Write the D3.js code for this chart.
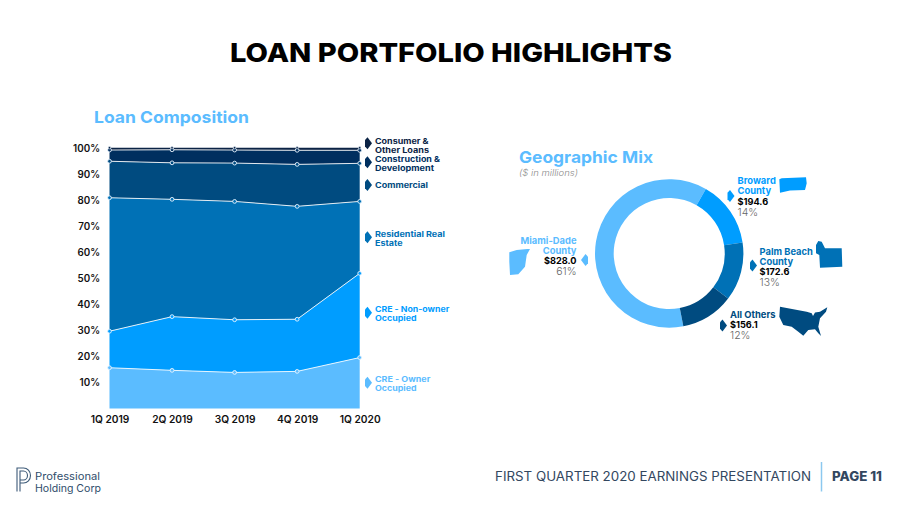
<!DOCTYPE html>
<html>
<head>
<meta charset="utf-8">
<script src="https://cdn.jsdelivr.net/npm/d3@7"></script>
<style>
  html, body { margin: 0; padding: 0; background: #fff; }
  svg { display: block; }
  text { font-family: Inter, "Open Sans", sans-serif; }
</style>
</head>
<body>
<svg id="chart" width="900" height="506"></svg>
<script>
// loan composition, % of portfolio per quarter
const quarters = ['1Q 2019', '2Q 2019', '3Q 2019', '4Q 2019', '1Q 2020'];
const ownerOccupied = [15.6, 14.6, 13.8, 14.2, 19.5];
const nonOwnerOccupied = [14.0, 20.6, 20.2, 20.0, 32.3];
const residential = [51.2, 45.0, 45.4, 43.3, 27.6];
const commercial = [14.0, 14.0, 14.7, 16.1, 14.6];
const construction = [4.3, 5.0, 5.0, 5.4, 5.0];
const consumer = [0.9, 0.8, 0.9, 1.0, 1.0];
const percentTicks = [10, 20, 30, 40, 50, 60, 70, 80, 90, 100];

const seriesNames = ['owner', 'nonOwner', 'resi', 'comm', 'constr', 'cons'];
const seriesValues = [ownerOccupied, nonOwnerOccupied, residential, commercial, construction, consumer];
const seriesColors = ['#5bbcff', '#009dff', '#0071b6', '#004b80', '#002f5f', '#0b2345'];

// geographic mix, $ millions
const geoNames = ['Miami-Dade', 'Broward', 'Palm Beach', 'All Others'];
const geoValues = [828.0, 194.6, 172.6, 156.1];
const geoColors = ['#5bbcff', '#009dff', '#0071b6', '#004b80'];

const svg = d3.select('#chart');

// text helper, w squeezes/stretches to the measured width of the original
function label(x, y, str, size, weight, fill, anchor, w) {
  const t = svg.append('text')
    .attr('x', x).attr('y', y)
    .attr('font-size', size)
    .attr('font-weight', weight)
    .attr('fill', fill)
    .attr('text-anchor', anchor || 'start')
    .text(str);
  if (w) t.attr('textLength', w).attr('lengthAdjust', 'spacingAndGlyphs');
  return t;
}

label(451, 62, 'LOAN PORTFOLIO HIGHLIGHTS', 26, 800, '#000', 'middle', 442);
label(94, 123, 'Loan Composition', 16.5, 700, '#5bbcff', 'start', 155);
label(519, 163, 'Geographic Mix', 16.5, 700, '#5bbcff', 'start', 134);
label(519, 176, '($ in millions)', 9, 300, '#8a8a8a', 'start', 59).attr('font-style', 'italic');

// stacked area
const x = d3.scalePoint().domain(quarters).range([109.5, 359.7]);
const y = d3.scaleLinear().domain([0, 100]).range([408.4, 147.7]);

const rows = quarters.map((q, i) => {
  const row = { q };
  seriesNames.forEach((s, j) => { row[s] = seriesValues[j][i]; });
  return row;
});
const stacked = d3.stack().keys(seriesNames)(rows);

const area = d3.area()
  .x(d => x(d.data.q))
  .y0(d => y(d[0]))
  .y1(d => y(d[1]));
const line = d3.line()
  .x(d => x(d.data.q))
  .y(d => y(d[1]));

svg.append('g').selectAll('path')
  .data(stacked)
  .enter().append('path')
  .attr('d', area)
  .attr('fill', (d, i) => seriesColors[i]);

// no white line along the top edge, it would eat the thin consumer band
svg.append('g').selectAll('path')
  .data(stacked.slice(0, -1))
  .enter().append('path')
  .attr('d', line)
  .attr('fill', 'none')
  .attr('stroke', '#fff')
  .attr('stroke-opacity', 0.85)
  .attr('stroke-width', 1);

stacked.forEach((s, i) => {
  const isTop = i === stacked.length - 1;
  svg.append('g').selectAll('circle')
    .data(s)
    .enter().append('circle')
    .attr('cx', d => x(d.data.q))
    .attr('cy', d => y(d[1]))
    .attr('r', isTop ? 1.2 : 1.9)
    .attr('fill', seriesColors[i])
    .attr('stroke', '#e8f4ff')
    .attr('stroke-width', isTop ? 0.6 : 0.9);
});

// axes, domain and tick lines hidden like the original
const yAxis = svg.append('g')
  .attr('transform', 'translate(100,0.5)')
  .call(d3.axisLeft(y).tickValues(percentTicks).tickFormat(d => d + '%').tickSize(0).tickPadding(0));
yAxis.select('.domain').remove();
yAxis.selectAll('text')
  .attr('font-size', 9.8).attr('font-weight', 600).attr('fill', '#111')
  .style('font-family', 'Inter');

const xAxis = svg.append('g')
  .attr('transform', 'translate(0,408)')
  .call(d3.axisBottom(x).tickSize(0).tickPadding(8));
xAxis.select('.domain').remove();
xAxis.selectAll('text')
  .attr('font-size', 10.2).attr('font-weight', 600).attr('fill', '#111')
  .style('font-family', 'Inter');

// small pointer next to each label, dir 1 = right
function pointer(px, py, color, dir) {
  svg.append('path')
    .attr('transform', `translate(${px},${py}) scale(${dir},1)`)
    .attr('d', 'M0,-3.2 L2.5,-6 L7,0 L2.5,6 L0,3.2 Z')
    .attr('fill', color);
}

const loanLabels = [
  { lines: ['Consumer &', 'Other Loans'], w: [53.5, 54], y: 143.6, px: 143.3, color: '#0b2345' },
  { lines: ['Construction &', 'Development'], w: [65, 59], y: 162, px: 162.3, color: '#002f5f' },
  { lines: ['Commercial'], w: [53], y: 188.3, px: 185, color: '#004b80' },
  { lines: ['Residential Real', 'Estate'], w: [70, 27.5], y: 236.6, px: 237.3, color: '#0071b6' },
  { lines: ['CRE - Non-owner', 'Occupied'], w: [74.3, 41.5], y: 311.6, px: 312.7, color: '#009dff' },
  { lines: ['CRE - Owner', 'Occupied'], w: [55.3, 41.5], y: 381.6, px: 382.7, color: '#5bbcff' }
];
loanLabels.forEach(d => {
  pointer(365, d.px, d.color, 1);
  // smaller size, stretched to the original width, so the line boxes stay apart
  d.lines.forEach((str, i) => {
    label(375, d.y + i * 9.3, str, 7.6, 700, d.color, 'start', d.w[i]);
  });
});

// donut
const donut = svg.append('g').attr('transform', 'translate(669.2,253.5)');
const startDeg = 169;
const pie = d3.pie().sort(null)
  .startAngle(startDeg * Math.PI / 180)
  .endAngle((startDeg + 360) * Math.PI / 180);
const arc = d3.arc().innerRadius(55.5).outerRadius(74.2);
donut.selectAll('path')
  .data(pie(geoValues))
  .enter().append('path')
  .attr('d', arc)
  .attr('fill', (d, i) => geoColors[i]);

function geoLabel(px, anchor, top, nameLines, color, amount, pct) {
  let yy = top;
  nameLines.forEach(s => { label(px, yy, s, 9.4, 700, color, anchor); yy += 10.4; });
  label(px, yy, amount, 9.2, 700, '#000', anchor); yy += 11;
  label(px, yy, pct, 10.5, 300, '#666', anchor);
}
geoLabel(576.5, 'end', 243.5, ['Miami-Dade', 'County'], geoColors[0], '$828.0', '61%');
geoLabel(737.5, 'start', 184, ['Broward', 'County'], geoColors[1], '$194.6', '14%');
geoLabel(759.5, 'start', 254.5, ['Palm Beach', 'County'], geoColors[2], '$172.6', '13%');
geoLabel(730, 'start', 318, ['All Others'], geoColors[3], '$156.1', '12%');

pointer(588, 260, geoColors[0], -1);
pointer(727.5, 196, geoColors[1], 1);
pointer(750, 265.5, geoColors[2], 1);
pointer(720, 325.5, geoColors[3], 1);

// map silhouettes, rough outlines
function silhouette(d, color) {
  svg.append('path').attr('d', d).attr('fill', color);
}
silhouette('M779.3,179.3 L781.7,178.3 L806,177.3 L806.7,183.3 L805,190 L790,190.5 L780,192.7 Z', geoColors[1]);
silhouette('M818.3,241 L821.7,241.7 L825,248.3 L841.7,248.3 L842.3,266.7 L820,267.7 L819.3,255 L816,253.3 L816,245 Z', geoColors[2]);
silhouette('M780,306.7 L806.7,311.7 L811.7,313.3 L813,316 L815,312.5 L820,311.7 L827.3,307.3 L826,311.7 L820,318.3 L818.3,326.7 L821,336 L818.3,333.3 L815,329.3 L808.3,330 L803.3,335.7 L798.3,331.7 L791.7,326.7 L783.3,325 L779.3,316.7 Z', geoColors[3]);
silhouette('M509.3,252.3 L516.7,250 L527.3,249 L530,249 L526.7,255 L525,266.7 L518.3,274.3 L510,275 L509.3,261.7 Z', geoColors[0]);

// footer
const logoPath = 'M17,491.5 L17,468 L23.5,468 A7,7.5 0 0 1 23.5,483 L20,483 M20,491.5 L20,471 L23.5,471 A4,4.5 0 0 1 23.5,480 L20,480';
svg.append('path').attr('d', logoPath).attr('fill', 'none').attr('stroke', '#3d5a78').attr('stroke-width', 1.1);
label(35, 479.5, 'Professional', 10.2, 400, '#2f4d6b', 'start', 65);
label(35, 492, 'Holding Corp', 10.2, 400, '#2f4d6b', 'start', 66);
label(495, 481, 'FIRST QUARTER 2020 EARNINGS PRESENTATION', 12.5, 400, '#33475f', 'start', 316);
svg.append('line').attr('x1', 821.5).attr('x2', 821.5).attr('y1', 462).attr('y2', 491.5)
  .attr('stroke', '#8cc8ef').attr('stroke-width', 1.5);
label(832, 481, 'PAGE 11', 12.5, 800, '#33475f', 'start', 50);
</script>
</body>
</html>
